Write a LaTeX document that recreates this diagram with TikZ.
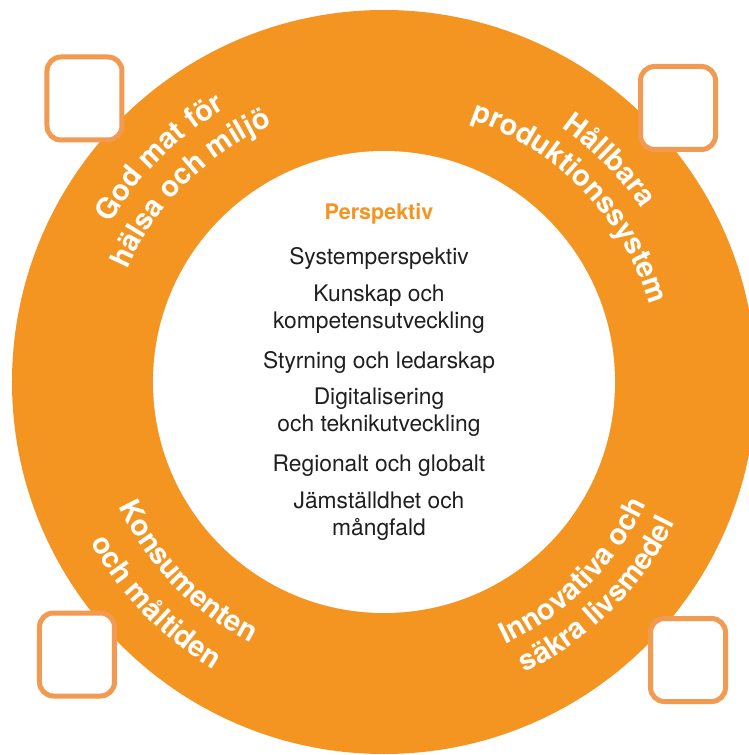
\documentclass[tikz,border=0pt]{standalone}
\usepackage{fontspec}
\setmainfont{TeX Gyre Heros}
\usetikzlibrary{decorations.text}

\definecolor{ringorange}{RGB}{244,149,33}
\definecolor{boxorange}{RGB}{242,153,82}

\newcommand{\ringfont}{\fontsize{29}{29}\selectfont\bfseries\color{white}}

\tikzset{
  tickbox/.style={draw=boxorange, line width=5, fill=white, rounded corners=14,
    minimum width=75, minimum height=83},
  perspline/.style={font=\fontsize{22.8}{27}\selectfont, align=center, text=black!88},
  % text running clockwise (tops outward) and counter-clockwise (tops inward)
  cwtext/.style={decorate, decoration={text along path, text align=center,
    text={|\ringfont|#1}}},
  ccwtext/.style={decorate, decoration={text along path, text align=center,
    text={|\ringfont|#1}}},
}

\begin{document}
\begin{tikzpicture}[x=1pt, y=1pt]

  \useasboundingbox (-384,-373) rectangle (364,382);
  \fill[white] (-384,-373) rectangle (364,382);

  % --- The ring ---
  \fill[ringorange] (0,0) circle (372);
  \fill[white] (0,0) circle (231);

  % --- Ring labels ---
  \path[cwtext={God mat för}] (175:316) arc[start angle=175, end angle=95, radius=316];
  \path[cwtext={hälsa och miljö}] (175:280) arc[start angle=175, end angle=95, radius=280];

  \path[cwtext={Hållbara}] (85:310) arc[start angle=85, end angle=4, radius=310];
  \path[cwtext={produktionssystem}] (85:276) arc[start angle=85, end angle=3, radius=276];

  \path[ccwtext={Konsumenten}] (184:293) arc[start angle=184, end angle=264, radius=293];
  \path[ccwtext={och måltiden}] (184:334) arc[start angle=184, end angle=264, radius=334];

  \path[ccwtext={Innovativa och}] (275:289) arc[start angle=275, end angle=355, radius=289];
  \path[ccwtext={säkra livsmedel}] (275:323) arc[start angle=275, end angle=355, radius=323];

  % --- Empty boxes ---
  \node[tickbox] (boxTL) at (-299.5,283.5) {};
  \node[tickbox] (boxTR) at (294,274) {};
  \node[tickbox] (boxBL) at (-307,-272.5) {};
  \node[tickbox] (boxBR) at (304,-278) {};

  % --- Perspectives ---
  \node[font=\fontsize{21.5}{26}\selectfont\bfseries, text=ringorange] (persp) at (-5,168) {Perspektiv};
  \node[perspline] (system) at (-5,124) {Systemperspektiv};
  \node[perspline] (kunskap) at (-5,73) {Kunskap och\\kompetensutveckling};
  \node[perspline] (styrning) at (-5,20) {Styrning och ledarskap};
  \node[perspline] (digital) at (-5,-30.5) {Digitalisering\\och teknikutveckling};
  \node[perspline] (regional) at (-5,-84) {Regionalt och globalt};
  \node[perspline] (jamst) at (-5,-134.5) {Jämställdhet och\\mångfald};

\end{tikzpicture}
\end{document}
